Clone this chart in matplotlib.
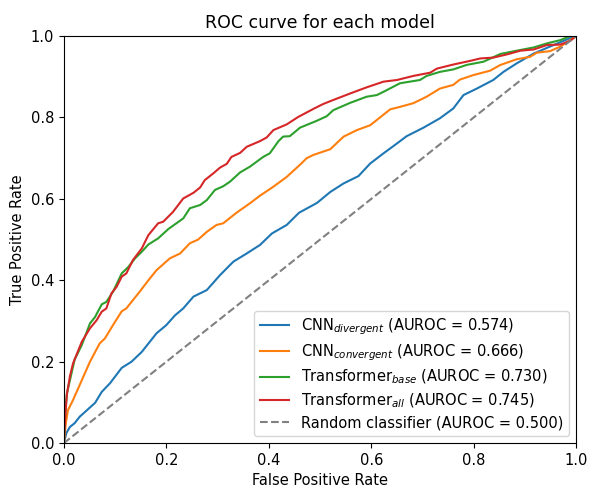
import matplotlib.pyplot as plt

# ROC points
fpr_div = [0.0, 0.005, 0.012, 0.021, 0.031, 0.061, 0.074, 0.09, 0.113, 0.132, 0.152, 0.181, 0.2, 0.217,
           0.233, 0.253, 0.279, 0.305, 0.331, 0.357, 0.383, 0.406, 0.435, 0.459, 0.494, 0.52, 0.546,
           0.575, 0.598, 0.624, 0.65, 0.669, 0.702, 0.734, 0.76, 0.78, 0.806, 0.838, 0.858, 0.884,
           0.917, 0.956, 0.994, 1.0]
tpr_div = [0.0, 0.025, 0.04, 0.049, 0.065, 0.099, 0.126, 0.147, 0.185, 0.2, 0.224, 0.27, 0.29, 0.314,
           0.331, 0.36, 0.376, 0.413, 0.446, 0.466, 0.487, 0.515, 0.536, 0.566, 0.59, 0.617, 0.638,
           0.656, 0.687, 0.712, 0.736, 0.754, 0.775, 0.798, 0.822, 0.855, 0.871, 0.892, 0.912, 0.933,
           0.957, 0.978, 0.998, 1.0]

fpr_conv = [0.0, 0.004, 0.008, 0.018, 0.038, 0.051, 0.07, 0.08, 0.096, 0.113, 0.122, 0.148, 0.165,
            0.181, 0.207, 0.227, 0.246, 0.262, 0.279, 0.298, 0.311, 0.337, 0.363, 0.383, 0.409, 0.435,
            0.461, 0.474, 0.487, 0.52, 0.546, 0.572, 0.598, 0.617, 0.637, 0.656, 0.682, 0.708, 0.734,
            0.76, 0.773, 0.799, 0.832, 0.852, 0.884, 0.91, 0.923, 0.949, 0.969, 0.988, 1.0]
tpr_conv = [0.0, 0.05, 0.081, 0.106, 0.163, 0.2, 0.245, 0.257, 0.29, 0.324, 0.331, 0.372, 0.4,
            0.425, 0.454, 0.466, 0.491, 0.5, 0.519, 0.536, 0.54, 0.566, 0.589, 0.608, 0.63, 0.654,
            0.684, 0.7, 0.708, 0.722, 0.753, 0.769, 0.781, 0.8, 0.82, 0.826, 0.835, 0.851, 0.871,
            0.88, 0.893, 0.904, 0.915, 0.929, 0.943, 0.949, 0.959, 0.963, 0.974, 0.99, 1.0]

fpr_base = [0.0, 0.003, 0.006, 0.012, 0.021, 0.035, 0.051, 0.061, 0.074, 0.083, 0.096, 0.113, 0.126,
            0.139, 0.152, 0.165, 0.184, 0.204, 0.233, 0.246, 0.266, 0.279, 0.295, 0.311, 0.324, 0.344,
            0.363, 0.389, 0.402, 0.419, 0.428, 0.441, 0.461, 0.494, 0.513, 0.526, 0.559, 0.591,
            0.611, 0.63, 0.656, 0.695, 0.708, 0.734, 0.76, 0.786, 0.819, 0.852, 0.884, 0.917, 0.943,
            0.969, 0.988, 1.0]
tpr_base = [0.0, 0.08, 0.122, 0.155, 0.205, 0.241, 0.294, 0.31, 0.341, 0.347, 0.372, 0.417, 0.433,
            0.454, 0.47, 0.488, 0.503, 0.526, 0.552, 0.577, 0.585, 0.597, 0.622, 0.631, 0.642, 0.665,
            0.679, 0.703, 0.712, 0.742, 0.753, 0.754, 0.775, 0.792, 0.803, 0.818, 0.836, 0.851,
            0.855, 0.867, 0.884, 0.892, 0.902, 0.912, 0.918, 0.929, 0.937, 0.956, 0.964, 0.972, 0.982,
            0.99, 1.0, 1.0]

fpr_all = [0.0, 0.003, 0.006, 0.012, 0.018, 0.035, 0.051, 0.064, 0.074, 0.083, 0.093, 0.103, 0.113,
           0.122, 0.135, 0.152, 0.165, 0.184, 0.194, 0.213, 0.233, 0.253, 0.266, 0.275, 0.292, 0.305,
           0.318, 0.327, 0.344, 0.357, 0.383, 0.396, 0.409, 0.435, 0.457, 0.487, 0.506, 0.526, 0.559,
           0.591, 0.624, 0.65, 0.682, 0.715, 0.728, 0.76, 0.793, 0.813, 0.838, 0.865, 0.891, 0.917,
           0.943, 0.969, 0.988, 1.0]
tpr_all = [0.0, 0.07, 0.12, 0.165, 0.196, 0.249, 0.282, 0.302, 0.323, 0.331, 0.368, 0.384, 0.409,
           0.417, 0.45, 0.478, 0.511, 0.54, 0.544, 0.568, 0.601, 0.615, 0.628, 0.646, 0.663, 0.677,
           0.686, 0.703, 0.713, 0.728, 0.742, 0.751, 0.769, 0.783, 0.801, 0.821, 0.833, 0.843, 0.859,
           0.874, 0.888, 0.892, 0.902, 0.91, 0.92, 0.93, 0.939, 0.945, 0.947, 0.955, 0.964, 0.967,
           0.978, 0.979, 0.988, 1.0]

labels = [r'CNN$_{divergent}$ (AUROC = 0.574)',
          r'CNN$_{convergent}$ (AUROC = 0.666)',
          r'Transformer$_{base}$ (AUROC = 0.730)',
          r'Transformer$_{all}$ (AUROC = 0.745)']
random_label = 'Random classifier (AUROC = 0.500)'

plt.rcParams['font.size'] = 10.5

fig = plt.figure(figsize=(5.91, 4.87), dpi=100)
ax = fig.add_axes([0.108, 0.090, 0.867, 0.836])

ax.plot(fpr_div, tpr_div, color='tab:blue', label=labels[0])
ax.plot(fpr_conv, tpr_conv, color='tab:orange', label=labels[1])
ax.plot(fpr_base, tpr_base, color='tab:green', label=labels[2])
ax.plot(fpr_all, tpr_all, color='tab:red', label=labels[3])
ax.plot([0, 1], [0, 1], linestyle='--', color='gray', label=random_label)

ax.set_xlim(0, 1)
ax.set_ylim(0, 1)
ax.set_xlabel('False Positive Rate')
ax.set_ylabel('True Positive Rate')
ax.set_title('ROC curve for each model', fontsize=12.5)
ax.legend(loc='lower right', labelspacing=0.35)

fig.savefig('out.png', dpi=100)
